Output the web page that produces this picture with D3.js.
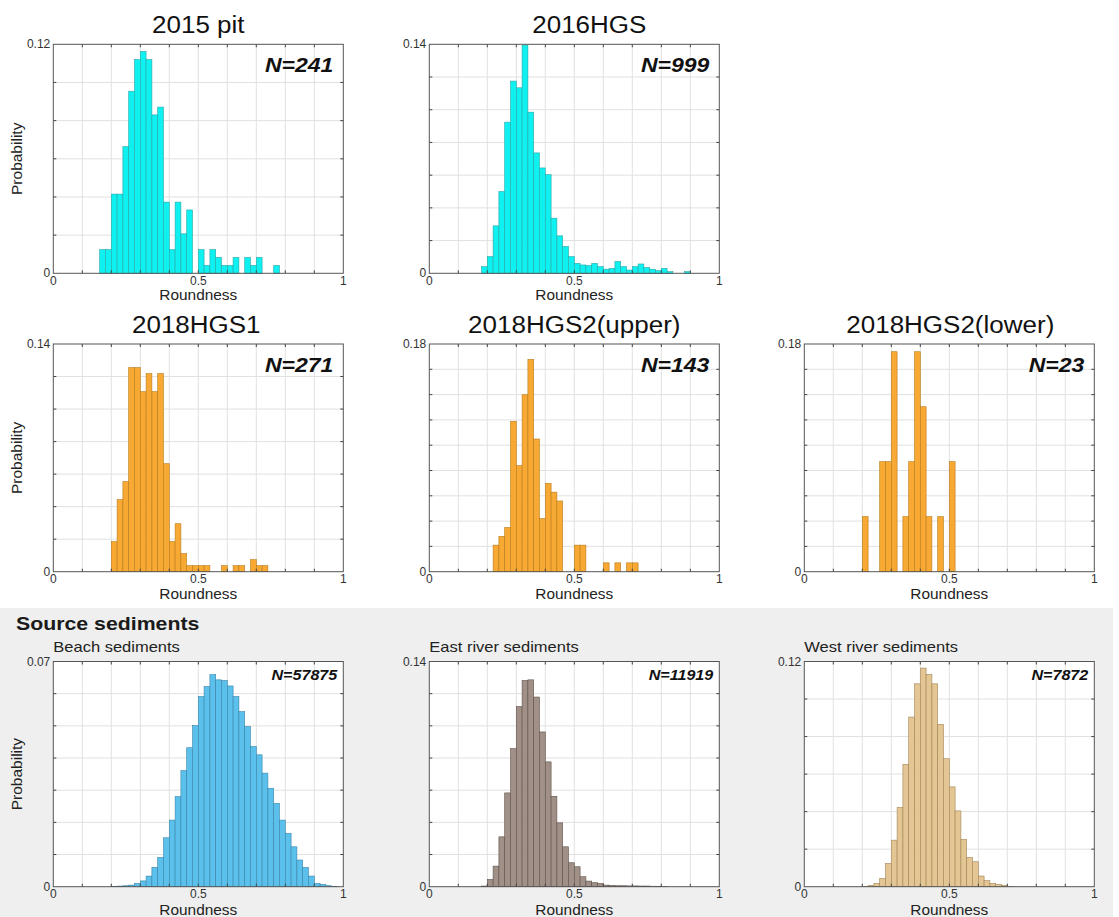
<!DOCTYPE html>
<html>
<head>
<meta charset="utf-8">
<script src="https://cdn.jsdelivr.net/npm/d3@7"></script>
<style>
  body { margin: 0; background: #fff; }
  svg { display: block; }
  text { font-family: "Liberation Sans", Arial, sans-serif; }
</style>
</head>
<body>
<script>
// histogram bins are 0.02 wide; each series starts at its first bin edge
const binWidth = 0.02;

const pit2015Start = 0.16;
const pit2015 = [0.0124, 0.0124, 0.0415, 0.0415, 0.0664, 0.0954, 0.112, 0.1162, 0.112, 0.083,
  0.0871, 0.0373, 0.0124, 0.0373, 0.0207, 0.0332, 0, 0.0124, 0.0041, 0.0124,
  0.0083, 0.0041, 0.0041, 0.0083, 0, 0.0083, 0.0041, 0.0083, 0, 0, 0.0041];

const hgs2016Start = 0.18;
const hgs2016 = [0.0041, 0.0102, 0.029, 0.05, 0.0924, 0.1175, 0.1134, 0.1395, 0.0985, 0.0736,
  0.0644, 0.0603, 0.0337, 0.0229, 0.0164, 0.0102, 0.0061, 0.0051, 0.0047, 0.0061,
  0.0041, 0.0025, 0.003, 0.0072, 0.0041, 0.002, 0.0041, 0.0057, 0.0035, 0.0025,
  0.0016, 0.003, 0.001, 0, 0, 0.001];

const hgs1Start = 0.20;
const hgs1 = [0.0185, 0.0443, 0.0554, 0.1255, 0.1255, 0.1107, 0.1218, 0.1107, 0.1218, 0.0664,
  0.0185, 0.0295, 0.0111, 0.0037, 0.0037, 0.0037, 0.0037, 0, 0, 0.0037,
  0, 0.0037, 0.0037, 0, 0.0074, 0.0037, 0.0037];

const hgs2UpperStart = 0.22;
const hgs2Upper = [0.021, 0.028, 0.035, 0.1189, 0.0839, 0.1399, 0.1678, 0.1049, 0.042, 0.0699,
  0.0629, 0.0559, 0, 0, 0.021, 0.021, 0, 0, 0, 0.007,
  0, 0.007, 0, 0.007, 0.007];

const hgs2LowerStart = 0.20;
const hgs2Lower = [0.0435, 0, 0, 0.087, 0.087, 0.1739, 0, 0.0435, 0.087, 0.1739,
  0.1304, 0.0435, 0, 0.0435, 0, 0.087];

const beachStart = 0.20;
const beach = [0.0001, 0.0002, 0.0003, 0.0005, 0.001, 0.0018, 0.0033, 0.006, 0.0091, 0.0152,
  0.0207, 0.028, 0.0361, 0.0432, 0.0501, 0.0591, 0.0622, 0.0659, 0.0643, 0.0641,
  0.0624, 0.0591, 0.0544, 0.0498, 0.0436, 0.041, 0.0353, 0.0306, 0.0259, 0.0207,
  0.0166, 0.0124, 0.0083, 0.006, 0.0033, 0.001, 0.0007, 0.0003, 0.0001];

const eastStart = 0.18;
const east = [0.0004, 0.0045, 0.0128, 0.031, 0.0583, 0.0858, 0.112, 0.1282, 0.1286, 0.1179,
  0.0962, 0.0776, 0.0562, 0.0397, 0.0248, 0.0149, 0.0124, 0.0062, 0.0035, 0.0025,
  0.002, 0.001, 0.0008, 0.0006, 0.0006, 0.0005, 0.0005, 0.0004, 0.0004, 0.0003,
  0.0002, 0.0001];

const westStart = 0.20;
const west = [0.0002, 0.0007, 0.0018, 0.0044, 0.0124, 0.0248, 0.0422, 0.0652, 0.0904, 0.1081,
  0.1165, 0.1131, 0.1081, 0.0865, 0.0682, 0.0532, 0.0404, 0.0252, 0.0156, 0.0133,
  0.0057, 0.0032, 0.0018, 0.0012, 0.0007, 0.0002];

const titles = ["2015 pit", "2016HGS", "2018HGS1", "2018HGS2(upper)", "2018HGS2(lower)",
  "Beach sediments", "East river sediments", "West river sediments"];
const sampleSizes = [241, 999, 271, 143, 23, 57875, 11919, 7872];
const yMaxes = [0.12, 0.14, 0.14, 0.18, 0.18, 0.07, 0.14, 0.12];
const yTickSteps = [0.02, 0.02, 0.02, 0.02, 0.02, 0.01, 0.02, 0.02];

const width = 1119, height = 917;
const svg = d3.select("body").append("svg")
  .attr("width", width)
  .attr("height", height);

// stretch text sideways, the original figure is a bit wider than tall
function stretch(sel, k) {
  sel.each(function() {
    const len = this.getComputedTextLength();
    d3.select(this).attr("textLength", len * k).attr("lengthAdjust", "spacingAndGlyphs");
  });
}

// grey box behind source sediments
svg.append("rect")
  .attr("x", 0)
  .attr("y", 608)
  .attr("width", 1113)
  .attr("height", height - 608)
  .attr("fill", "#eeefee");

svg.append("text")
  .attr("x", 16)
  .attr("y", 630)
  .attr("font-size", 19)
  .attr("font-weight", "bold")
  .attr("fill", "#1a1a1a")
  .text("Source sediments")
  .call(stretch, 1.12);

const cols = [[53.3, 343.3], [429.3, 719.3], [804.3, 1094.3]];
const rows = [[44.3, 273.3], [344, 571.7], [661.5, 886.7]];

const cyan = { fill: "#0ff0f0", stroke: "#2aa7a7" };
const orange = { fill: "#f8a934", stroke: "#b87c1c" };

const panels = [
  { i: 0, values: pit2015, start: pit2015Start, col: 0, row: 0, color: cyan, big: true, ylab: true, dx: 0 },
  { i: 1, values: hgs2016, start: hgs2016Start, col: 1, row: 0, color: cyan, big: true, ylab: false, dx: 15 },
  { i: 2, values: hgs1, start: hgs1Start, col: 0, row: 1, color: orange, big: true, ylab: true, dx: -2 },
  { i: 3, values: hgs2Upper, start: hgs2UpperStart, col: 1, row: 1, color: orange, big: true, ylab: false, dx: 0 },
  { i: 4, values: hgs2Lower, start: hgs2LowerStart, col: 2, row: 1, color: orange, big: true, ylab: false, dx: 1 },
  { i: 5, values: beach, start: beachStart, col: 0, row: 2, color: { fill: "#5bc1ec", stroke: "#3a84a8" }, big: false, ylab: true },
  { i: 6, values: east, start: eastStart, col: 1, row: 2, color: { fill: "#a09087", stroke: "#5f534c" }, big: false, ylab: false },
  { i: 7, values: west, start: westStart, col: 2, row: 2, color: { fill: "#e4c594", stroke: "#a28556" }, big: false, ylab: false }
];

function drawPanel(p) {
  const [left, right] = cols[p.col];
  const [top, bottom] = rows[p.row];
  const yMax = yMaxes[p.i];
  const yStep = yTickSteps[p.i];

  const x = d3.scaleLinear().domain([0, 1]).range([left, right]);
  const y = d3.scaleLinear().domain([0, yMax]).range([bottom, top]);

  const g = svg.append("g");

  // plot area
  g.append("rect")
    .attr("x", left).attr("y", top)
    .attr("width", right - left).attr("height", bottom - top)
    .attr("fill", "#fff");

  const xTicks = d3.range(0, 11).map(k => k / 10);
  const yTicks = d3.range(0, Math.round(yMax / yStep) + 1).map(k => k * yStep);

  // grid
  g.selectAll(".gx").data(xTicks.slice(1, -1)).join("line")
    .attr("x1", d => x(d)).attr("x2", d => x(d))
    .attr("y1", top).attr("y2", bottom)
    .attr("stroke", "#e1e1e1").attr("stroke-width", 1);
  g.selectAll(".gy").data(yTicks.slice(1, -1)).join("line")
    .attr("x1", left).attr("x2", right)
    .attr("y1", d => y(d)).attr("y2", d => y(d))
    .attr("stroke", "#e1e1e1").attr("stroke-width", 1);

  // bars
  const bins = p.values.map((v, k) => ({ x0: p.start + k * binWidth, v: v })).filter(d => d.v > 0);
  g.selectAll(".bar").data(bins).join("rect")
    .attr("x", d => x(d.x0))
    .attr("y", d => y(d.v))
    .attr("width", d => x(d.x0 + binWidth) - x(d.x0))
    .attr("height", d => y(0) - y(d.v))
    .attr("fill", p.color.fill)
    .attr("stroke", p.color.stroke)
    .attr("stroke-width", 0.6);

  // ticks, inward on all four sides
  const tl = 3;
  xTicks.slice(1, -1).forEach(t => {
    g.append("line").attr("x1", x(t)).attr("x2", x(t)).attr("y1", bottom).attr("y2", bottom - tl).attr("stroke", "#444");
    g.append("line").attr("x1", x(t)).attr("x2", x(t)).attr("y1", top).attr("y2", top + tl).attr("stroke", "#444");
  });
  yTicks.slice(1, -1).forEach(t => {
    g.append("line").attr("x1", left).attr("x2", left + tl).attr("y1", y(t)).attr("y2", y(t)).attr("stroke", "#444");
    g.append("line").attr("x1", right).attr("x2", right - tl).attr("y1", y(t)).attr("y2", y(t)).attr("stroke", "#444");
  });

  // frame
  g.append("rect")
    .attr("x", left).attr("y", top)
    .attr("width", right - left).attr("height", bottom - top)
    .attr("fill", "none")
    .attr("stroke", "#555")
    .attr("stroke-width", 1);

  // tick labels
  const lab = g.append("g").attr("fill", "#333");
  lab.append("text").attr("x", left - 3).attr("y", top + 4).attr("text-anchor", "end")
    .attr("font-size", 12)
    .text(d3.format("")(yMax));
  lab.append("text").attr("x", left - 3).attr("y", bottom + 4).attr("text-anchor", "end")
    .attr("font-size", 12).text("0");
  [0, 0.5, 1].forEach(t => {
    lab.append("text").attr("x", x(t)).attr("y", bottom + 11.5).attr("text-anchor", "middle")
      .attr("font-size", 12).text(t);
  });

  g.append("text")
    .attr("x", (left + right) / 2)
    .attr("y", bottom + (p.big ? 27 : 28))
    .attr("text-anchor", "middle")
    .attr("font-size", 14)
    .attr("fill", "#222")
    .text("Roundness")
    .call(stretch, 1.1);

  if (p.ylab) {
    g.append("text")
      .attr("transform", `translate(22,${(top + bottom) / 2}) rotate(-90)`)
      .attr("text-anchor", "middle")
      .attr("font-size", 15.5)
      .attr("fill", "#222")
      .text("Probability");
  }

  // title
  if (p.big) {
    g.append("text")
      .attr("x", (left + right) / 2 + p.dx)
      .attr("y", top - 11)
      .attr("text-anchor", "middle")
      .attr("font-size", 23)
      .attr("fill", "#111")
      .text(titles[p.i])
      .call(stretch, 1.13);
  } else {
    g.append("text")
      .attr("x", left)
      .attr("y", top - 10)
      .attr("font-size", 15)
      .attr("fill", "#222")
      .text(titles[p.i])
      .call(stretch, 1.1);
  }

  // sample size
  g.append("text")
    .attr("x", right - (p.big ? 10 : 6))
    .attr("y", top + (p.big ? 28 : 18))
    .attr("text-anchor", "end")
    .attr("font-size", p.big ? 20 : 14)
    .attr("font-weight", "bold")
    .attr("font-style", "italic")
    .attr("fill", "#111")
    .text("N=" + sampleSizes[p.i])
    .call(stretch, 1.15);
}

panels.forEach(drawPanel);
</script>
</body>
</html>
